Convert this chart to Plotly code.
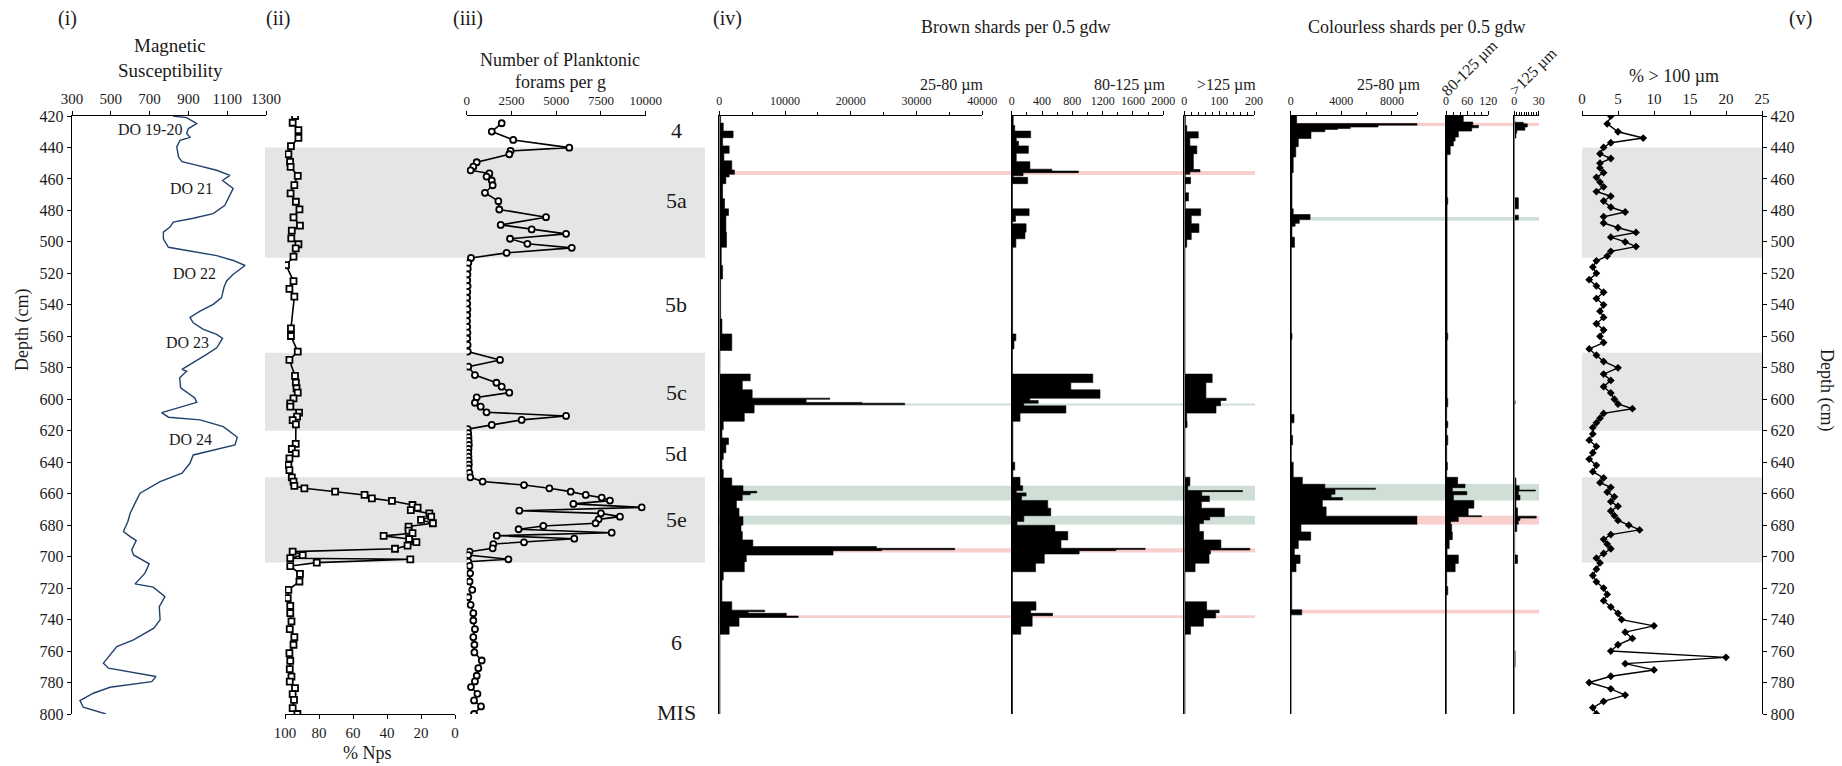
import plotly.graph_objects as go

W, H = 1842, 766
FONT = "Liberation Serif"
TXT = "#1a1a1a"
CORE_TOP, CORE_BOTTOM = 420, 800

# ---------------- data ----------------
ms_depth = [420, 421, 424.8, 428, 431, 433.6, 435.4, 439.6, 446, 449, 450.7, 454.5, 457.7, 461, 466, 474.6, 476.7, 482, 485, 487.4,
            490.6, 493.8, 498, 503.4, 505, 508.7, 511.8, 515, 520.6, 524.8, 529, 535.4, 539.7, 544, 548, 551.4, 555.6, 558.8, 561.3, 567.3,
            571.5, 576.8, 581, 582.2, 586.4, 592.8, 599.2, 602, 608.5, 611.4, 613.1, 617.4, 624.1, 629, 632.2, 635.4, 640.7, 647, 652.3, 659.7,
            666, 672.4, 677.7, 684, 687.3, 689.8, 695.7, 698.9, 704.6, 710.5, 717.3, 719.4, 725.4, 731.8, 740.2, 745.5, 752.9, 757.2, 767.7, 770.9,
            776.2, 779.4, 783, 786.8, 791.5, 795.7, 800]
ms_value = [820, 891, 943, 900, 891, 908, 857, 840, 849, 867, 925, 1046, 1114, 1076, 1131, 1097, 1088, 1028, 925, 822,
            805, 771, 771, 797, 874, 1046, 1131, 1192, 1131, 1097, 1083, 1071, 1028, 960, 908, 925, 977, 1046, 1076, 1046,
            994, 925, 867, 891, 855, 860, 933, 943, 762, 797, 960, 1080, 1152, 1140, 1028, 925, 908, 867, 754, 651,
            625, 600, 588, 565, 600, 631, 608, 617, 698, 676, 625, 719, 779, 750, 754, 722, 617, 531, 462, 488,
            733, 711, 496, 410, 341, 358, 475]
do_labels = ["DO 19-20", "DO 21", "DO 22", "DO 23", "DO 24"]

nps_depth = [420, 424.3, 429, 433.9, 439.2, 444.2, 449.1, 452.3, 458, 463.9, 469.2, 474.5, 479.3, 484.4, 489.7, 492.8, 497.7, 501.5, 504.1, 509.4,
             514.7, 524.9, 529.8, 534.8, 554.9, 559.8, 569.7, 575, 585.2, 589.4, 593, 595.8, 599.4, 602.6, 604.7, 608.5, 611, 613.2, 615.9, 628.4,
             631.6, 634.4, 637.5, 641.8, 645, 649.6, 652.4, 655.1, 656.6, 658.7, 660.8, 663, 664.6, 667.2, 668.9, 670.4, 672.5, 674.6, 676.7, 678.8,
             680.9, 683.5, 685.1, 686.8, 688.8, 690.8, 693, 695, 696.8, 699, 701, 701.7, 703.8, 706, 711, 715.8, 721.1, 726.4, 731.3, 735.9,
             741.2, 746.1, 751.2, 756, 761.3, 766.2, 771.5, 776.2, 779.4, 783.6, 787.4, 791, 796.3, 800]
nps_value = [94.1, 95.5, 92.1, 92.1, 96.5, 98, 97, 96.7, 92.5, 94.5, 96.7, 93.6, 91.5, 95, 91.2, 96, 96.3, 92.1, 93.7, 95,
             99.4, 95, 97.4, 94.5, 96.5, 96.5, 92.5, 97.4, 94.1, 93.6, 93.2, 92.5, 95, 96.9, 96.9, 91.7, 92.9, 95.5, 93.6, 93.7,
             96, 93.7, 97.4, 98, 97.4, 96, 95, 94.5, 88.6, 70.5, 53.2, 48.9, 37.1, 25, 22, 26, 15.1, 14, 20, 13,
             27.3, 27.3, 25, 42, 27, 22.7, 27.9, 35.3, 95.5, 89.6, 96.9, 26.3, 81.3, 96.9, 91.2, 91.5, 98, 98.4, 96.9, 96.9,
             96.2, 97.2, 94.5, 95, 97.4, 96.9, 97.2, 96.2, 97.2, 94.1, 95.5, 94.7, 95.5, 92.7]

foram_depth = [424.6, 429.9, 435.2, 440.1, 442.2, 444.3, 449.4, 452.2, 454.5, 456.5, 458.5, 461, 464, 468.8, 474.1, 479.4, 484.3, 489.2, 492.1, 494.9,
               498, 501.2, 503.8, 507, 510.2, 513.4, 517, 520.7, 524.4, 528.1, 531.8, 535.5, 539.2, 542.9, 546.6, 550.3, 554, 557.7, 561.4, 565.5,
               569.7, 575, 579.3, 584.6, 589.5, 592, 595.8, 598.8, 602.2, 604.7, 608.3, 610.6, 613.1, 616.3, 619, 621.5, 624, 626.5, 629, 631.5,
               634, 636.5, 639, 641.5, 644, 646.8, 649.6, 652.3, 654.5, 656.6, 658.7, 660.8, 662.5, 664.4, 666.5, 668.7, 670.8, 672.5, 674.6, 676.3,
               678.8, 680.5, 682.6, 684.8, 686.7, 688.6, 690.9, 692, 694.7, 696.8, 699, 701.7, 703.2, 705.9, 710.6, 715.8, 721.1, 725.8, 730.6, 735.9,
               740.6, 746.1, 751.2, 756, 760.9, 766, 770.9, 775.7, 779.3, 782.9, 787.2, 791.4, 795.2, 800]
foram_value = [1955, 1400, 2600, 5730, 2450, 2380, 560, 370, 220, 1265, 1110, 1400, 1450, 1020, 1770, 1820, 4430, 1900, 3630, 5550,
               2420, 3390, 5870, 2230, 240, 90, 60, 40, 30, 50, 30, 20, 30, 40, 30, 20, 30, 40, 30, 50,
               60, 1860, 90, 460, 1660, 1955, 2380, 560, 460, 780, 1110, 5550, 3070, 1400, 60, 80, 100, 110, 120, 100,
               90, 100, 110, 120, 100, 150, 200, 890, 3200, 4620, 5810, 6650, 7540, 8000, 5960, 9780, 2940, 7500, 8560, 7370,
               7200, 4280, 2900, 8100, 1680, 6010, 3200, 1490, 1450, 160, 90, 2330, 90, 160, 190, 160, 310, 90, 220, 370,
               370, 460, 370, 430, 430, 840, 650, 560, 460, 240, 600, 410, 800, 410]

mis_labels = ["4", "5a", "5b", "5c", "5d", "5e", "6", "MIS"]
mis_depths = [428.9, 474, 540, 596, 634.7, 676.7, 754.8, 799.3]
mis_bands = [(440, 510), (570.4, 620), (649.6, 703.8)]

# shard counts: top depth of each interval and value held until next top
brown2580_top = [420, 424.5, 429.6, 433.8, 439, 443.7, 448.5, 454.3, 457, 458.7, 463, 472.6, 479, 483.3, 493.8, 503.4, 515, 523.5, 549, 558.5,
                 569, 584, 588.3, 594, 599.3, 600, 602, 602.5, 603.5, 608.7, 614, 619.3, 624.6, 628.8, 634, 638.3, 644.7, 650, 655, 658.5,
                 659.5, 660.7, 664.3, 669.2, 674.6, 680, 684, 689.4, 693.6, 694.7, 695.6, 696.2, 699, 703.2, 709.6, 714.9, 728.7, 734, 735, 736,
                 737.8, 738.7, 744.2, 749.3]
brown2580_val = [200, 600, 2100, 500, 1500, 700, 1900, 2300, 1500, 1000, 500, 800, 1400, 1000, 1100, 300, 500, 200, 400, 1900,
                 100, 4700, 3500, 5000, 16800, 13200, 21700, 28200, 5300, 3800, 600, 400, 1400, 1000, 600, 400, 600, 1900, 3600, 5700,
                 4700, 3500, 2600, 3000, 3600, 3300, 3500, 5100, 23900, 35800, 24700, 17300, 4100, 3800, 600, 400, 1900, 6900, 4400, 10200,
                 12000, 3000, 1500, 100]
brown80125_top = [420, 426, 429.6, 433.8, 436, 439, 443.7, 449, 453.8, 455, 456, 458, 459, 463, 479, 483.3, 487, 488.5, 493.8, 498,
                  503.4, 558.5, 562.8, 568, 584, 589.4, 594, 599.3, 600.8, 602.5, 604.2, 608.8, 614, 640, 645, 649.6, 655, 658, 659.5, 661.5,
                  664.3, 669.2, 674, 677.6, 680, 684, 689.4, 694.7, 695.5, 696.2, 698.3, 704.2, 709.6, 728.7, 734, 736, 737.5, 744.2, 749.3]
brown80125_val = [20, 40, 250, 60, 90, 220, 60, 240, 530, 880, 150, 20, 210, 10, 230, 50, 10, 190, 175, 55,
                  12, 55, 30, 10, 1070, 780, 1165, 240, 350, 160, 715, 110, 15, 40, 15, 110, 145, 60, 190, 130,
                  475, 515, 160, 70, 570, 740, 650, 1760, 1375, 890, 430, 315, 10, 320, 250, 540, 270, 120, 10]
brown125_top = [420, 426, 430, 434, 439, 444, 454, 455.5, 457, 459, 463, 468.8, 474, 479, 483.3, 488.5, 494, 498.5, 503.4, 584,
                589.4, 594, 599.3, 600.8, 604.2, 608.8, 614, 618, 649.6, 655, 658, 658.7, 661.5, 665, 669.2, 674.6, 676.7, 679, 684, 689.4,
                694.7, 695.8, 698.3, 704.2, 709.6, 728.7, 734, 735.7, 739, 744.2, 749.3]
brown125_val = [3, 7, 40, 16, 36, 26, 45, 16, 3, 18, 3, 12, 3, 47, 20, 42, 20, 7, 2, 80,
                62, 62, 120, 104, 91, 7, 8, 2, 16, 10, 167, 50, 72, 49, 115, 73, 55, 43, 55, 105,
                188, 75, 71, 31, 2, 64, 100, 90, 55, 18, 2]
col2580_top = [420, 424.8, 425.8, 427, 428, 428.5, 430, 434.3, 439.5, 446, 456, 479, 482.6, 485.7, 488.2, 490, 497, 503.4, 558, 562,
               609.7, 615, 623, 629, 640, 649.6, 654, 656.5, 657.2, 660.4, 662.5, 664, 668.4, 674.3, 679.4, 684.3, 689.6, 694.9, 699, 704.3,
               709.6, 733.8, 737]
col2580_val = [470, 10000, 6900, 4700, 3700, 2700, 1600, 600, 400, 200, 100, 200, 1530, 680, 350, 100, 300, 50, 100, 50,
               260, 50, 150, 50, 200, 920, 2700, 6700, 3500, 3200, 4100, 2500, 2800, 10000, 810, 1580, 600, 290, 740, 420,
               80, 870, 30]
col80125_top = [420, 423.8, 426, 427.5, 429.6, 433.4, 435.9, 439, 444.5, 472, 476, 558, 562, 599.5, 604.8, 614, 618, 623, 629, 640,
                645, 649.6, 654, 656.2, 658.6, 660.7, 664.3, 669.2, 674, 674.6, 677.6, 679.4, 684.3, 689.2, 694.9, 699, 704.3, 709.6, 719, 724.3]
col80125_val = [49, 76, 92, 73, 35, 26, 21, 12, 3, 5, 3, 5, 3, 5, 2, 5, 2, 5, 2, 4,
                2, 33, 54, 18, 59, 21, 79, 63, 101, 35, 13, 16, 18, 9, 3, 35, 26, 2, 5, 1]
col125_top = [420, 424, 425, 427, 429, 431, 434, 472, 479, 483, 486, 601, 603, 650, 655, 657.7, 658.3, 661, 664, 669,
              674.3, 675.5, 677, 679.4, 684, 699, 704.3, 760, 770]
col125_val = [0.5, 11, 16, 13, 3, 2, 0.3, 5, 0.3, 5, 0.3, 1, 0.3, 2, 6, 26, 5, 7, 2, 4,
              27, 7, 5, 3, 0.5, 4, 0.3, 1, 0.3]

# tephra horizons (depth top, depth bottom, kind)
brown_horizons = [(455, 457.5, "pink"), (602.7, 604, "green"), (655, 664.4, "green"), (674, 679.6, "green"),
                  (694.7, 697.4, "pink"), (737.2, 739, "pink")]
col_horizons = [(424.3, 426.3, "pink"), (484.2, 486.6, "green"), (653.8, 664.4, "green"), (674, 679.6, "pink"),
                (733.8, 736.2, "pink")]

pct_depth = [420, 425, 430, 434, 437, 440, 444, 447, 450, 453, 456, 459, 462, 465, 468, 471, 474, 478, 481, 484,
             488, 491, 494, 497, 500, 503, 506, 509, 512, 516, 520, 524, 528, 532, 536, 540, 544, 548, 552, 556,
             560, 564, 568, 572, 576, 580, 584, 588, 592, 596, 600, 603, 606, 609, 612, 615, 618, 622, 626, 630,
             634, 638, 642, 646, 650, 653, 656, 659, 662, 665, 668, 671, 674, 677, 680, 683, 686, 689, 692, 695,
             698, 701, 704, 708, 712, 716, 720, 724, 728, 732, 736, 740, 744, 748, 752, 756, 760, 764, 768, 772,
             776, 780, 784, 788, 792, 796, 800]
pct_value = [4, 3.5, 5, 8.5, 4, 3, 2.5, 4, 2.5, 2.5, 3, 2, 2.5, 3, 2, 4, 3, 4, 6, 3,
             3, 5, 7.5, 4, 6, 7.5, 4, 3.5, 2, 1.5, 2, 1, 2, 3, 2, 3, 2.5, 3, 2, 3,
             2.5, 3, 1, 2, 3, 5, 3, 4, 3, 4, 4.5, 5, 7, 3, 2.5, 2, 1.5, 1.5, 1, 2,
             1.5, 1, 2, 1.5, 3, 2.5, 4, 3.5, 4.5, 4, 5, 4, 4.5, 5, 6.5, 8, 4, 3, 3.5, 4,
             3, 2, 2.5, 2, 1.5, 2, 3, 3.5, 3, 4, 5, 5.5, 10, 6, 7, 5, 4, 20, 6, 10,
             4, 1, 4, 6, 3, 1.5, 2]

# ---------------- helpers ----------------
def px(x):
    return x / W


def py(y):
    return 1 - y / H


YDOM = [py(714), py(116)]
fig = go.Figure()


def step_trace(top, val, n):
    xs = list(val) + [val[-1]]
    ys = list(top) + [CORE_BOTTOM]
    return go.Scatter(x=xs, y=ys, xaxis="x%d" % n, yaxis="y%d" % n, mode="lines",
                      line=dict(shape="vh", color="black", width=0.6),
                      fill="tozerox", fillcolor="black", hoverinfo="skip")


fig.add_trace(go.Scatter(x=ms_value, y=ms_depth, xaxis="x", yaxis="y", mode="lines",
                         line=dict(color="#21406d", width=1.4)))
fig.add_trace(go.Scatter(x=nps_value, y=nps_depth, xaxis="x2", yaxis="y2", mode="lines+markers",
                         line=dict(color="black", width=1.6),
                         marker=dict(symbol="square", size=6, color="white", line=dict(color="black", width=1.8))))
fig.add_trace(go.Scatter(x=foram_value, y=foram_depth, xaxis="x3", yaxis="y3", mode="lines+markers",
                         line=dict(color="black", width=1.6),
                         marker=dict(symbol="circle", size=6, color="white", line=dict(color="black", width=1.8))))
fig.add_trace(step_trace(brown2580_top, brown2580_val, 4))
fig.add_trace(step_trace(brown80125_top, brown80125_val, 5))
fig.add_trace(step_trace(brown125_top, brown125_val, 6))
fig.add_trace(step_trace(col2580_top, col2580_val, 7))
fig.add_trace(step_trace(col80125_top, col80125_val, 8))
fig.add_trace(step_trace(col125_top, col125_val, 9))
fig.add_trace(go.Scatter(x=pct_value, y=pct_depth, xaxis="x10", yaxis="y10", mode="lines+markers",
                         line=dict(color="black", width=1.4),
                         marker=dict(symbol="diamond", size=6, color="black")))

tickfont = lambda s: dict(family=FONT, size=s, color=TXT)


def xax(dom, rng, side, anchor, fs, tickvals=None, dtick=None, minor=None, tick0=None):
    d = dict(domain=[px(dom[0]), px(dom[1])], range=rng, side=side, anchor=anchor, automargin=False,
             showline=True, linecolor="black", linewidth=1.4, ticks="outside", ticklen=4,
             tickcolor="black", tickwidth=1.2, showgrid=False, zeroline=False,
             tickfont=tickfont(fs), tickformat="d", ticklabelstandoff=1, fixedrange=True)
    if tickvals is not None:
        d["tickvals"] = tickvals
    if dtick is not None:
        d["dtick"] = dtick
        d["tick0"] = 0 if tick0 is None else tick0
    if minor is not None:
        d["minor"] = dict(dtick=minor, tick0=0, ticks="outside", ticklen=3, tickcolor="black", tickwidth=1)
    return d


def yax(anchor, show_line=False, side="left", labels=False):
    d = dict(domain=YDOM, range=[CORE_BOTTOM, CORE_TOP], anchor=anchor, side=side, automargin=False,
             showgrid=False, zeroline=False, showline=show_line, linecolor="black", linewidth=1.4,
             showticklabels=labels, ticks="outside" if labels else "", ticklen=4, tickcolor="black",
             tickwidth=1.2, tickvals=list(range(420, 801, 20)), tickfont=tickfont(16), fixedrange=True)
    return d


layout = dict(width=W, height=H, autosize=False,
              margin=dict(l=0, r=0, t=0, b=0, pad=0, autoexpand=False),
              paper_bgcolor="white", plot_bgcolor="rgba(0,0,0,0)", showlegend=False,
              font=dict(family=FONT, color=TXT))
layout["xaxis"] = xax((72, 266), [300, 1300], "top", "y", 15, tickvals=list(range(300, 1301, 200)))
layout["yaxis"] = yax("x", show_line=True, labels=True)
layout["xaxis2"] = xax((285, 455), [100, 0], "bottom", "y2", 15, tickvals=list(range(0, 101, 20)))
layout["yaxis2"] = yax("x2")
layout["xaxis3"] = xax((466.7, 645.7), [0, 10000], "top", "y3", 13, tickvals=[0, 2500, 5000, 7500, 10000])
layout["yaxis3"] = yax("x3")
layout["xaxis4"] = xax((719.3, 982.3), [0, 40000], "top", "y4", 12, dtick=10000, minor=5000)
layout["yaxis4"] = yax("x4", show_line=True)
layout["xaxis5"] = xax((1011.7, 1163.3), [0, 2000], "top", "y5", 12, dtick=400, minor=200)
layout["yaxis5"] = yax("x5", show_line=True)
layout["xaxis6"] = xax((1184.3, 1254), [0, 200], "top", "y6", 12, dtick=100, minor=20)
layout["yaxis6"] = yax("x6", show_line=True)
layout["xaxis7"] = xax((1290.7, 1417.3), [0, 10000], "top", "y7", 12, tickvals=[0, 4000, 8000], minor=2000)
layout["yaxis7"] = yax("x7", show_line=True)
layout["xaxis8"] = xax((1446, 1488.3), [0, 120], "top", "y8", 12, tickvals=[0, 60, 120], minor=20)
layout["yaxis8"] = yax("x8", show_line=True)
layout["xaxis9"] = xax((1514.3, 1538.7), [0, 30], "top", "y9", 12, tickvals=[0, 30], minor=3)
layout["yaxis9"] = yax("x9", show_line=True)
layout["xaxis10"] = xax((1582, 1762), [0, 25], "top", "y10", 15, dtick=5)
layout["yaxis10"] = yax("x10", show_line=True, side="right", labels=True)

shapes = []
for (a, b) in mis_bands:
    for (x0, x1) in [(265, 705), (1582, 1762)]:
        shapes.append(dict(type="rect", xref="paper", yref="y", x0=px(x0), x1=px(x1), y0=a, y1=b,
                           fillcolor="#e4e5e5", line=dict(width=0), layer="below"))
HCOL = {"pink": "#f8cfcc", "green": "#cfdfd6"}
for (a, b, k) in brown_horizons:
    shapes.append(dict(type="rect", xref="paper", yref="y", x0=px(719.3), x1=px(1255), y0=a, y1=b,
                       fillcolor=HCOL[k], line=dict(width=0), layer="below"))
for (a, b, k) in col_horizons:
    shapes.append(dict(type="rect", xref="paper", yref="y", x0=px(1290.7), x1=px(1539), y0=a, y1=b,
                       fillcolor=HCOL[k], line=dict(width=0), layer="below"))
layout["shapes"] = shapes


def ann(text, x, y, size, angle=0, xanchor="center"):
    return dict(text=text, x=px(x), y=py(y), xref="paper", yref="paper", showarrow=False,
                font=dict(family=FONT, size=size, color=TXT), textangle=angle,
                xanchor=xanchor, yanchor="middle")


anns = [
    ann("(i)", 67, 18, 20), ann("(ii)", 278, 18, 20), ann("(iii)", 468, 18, 20),
    ann("(iv)", 727, 18, 20), ann("(v)", 1800, 18, 20),
    ann("Magnetic", 170, 46, 19), ann("Susceptibility", 170, 70, 19),
    ann("Number of Planktonic", 560, 60, 18), ann("forams per g", 560, 82, 18),
    ann("Brown shards per 0.5 gdw", 1015, 27, 18),
    ann("Colourless shards per 0.5 gdw", 1416, 27, 18),
    ann("25-80 µm", 952, 85, 16), ann("80-125 µm", 1130, 85, 16), ann(">125 µm", 1226, 85, 16),
    ann("25-80 µm", 1389, 85, 16),
    ann("80-125 µm", 1470, 68, 16, angle=-45), ann(">125 µm", 1533, 72, 16, angle=-45),
    ann("% Nps", 367, 753, 18),
    ann("% > 100 µm", 1674, 76, 18),
    ann("Depth (cm)", 22, 330, 18, angle=-90),
    ann("Depth (cm)", 1827, 390, 18, angle=90),
]
do_pos = [(150, 130), (191, 189), (194, 273), (187, 342), (190, 439)]
for lab, (x, y) in zip(do_labels, do_pos):
    anns.append(ann(lab, x, y, 16))
for lab, d in zip(mis_labels, mis_depths):
    anns.append(dict(text=lab, x=px(676), y=d, xref="paper", yref="y", showarrow=False, xanchor="center",
                     yanchor="middle", font=dict(family=FONT, size=22, color=TXT)))
layout["annotations"] = anns

fig.update_layout(**layout)

POST = ("document.documentElement.style.margin='0';document.documentElement.style.overflow='hidden';"
        "document.body.style.margin='0';document.body.style.padding='0';document.body.style.overflow='hidden';")
fig.write_html("out.html", config={"responsive": False, "displayModeBar": False},
               default_width="%dpx" % W, default_height="%dpx" % H, post_script=POST)
